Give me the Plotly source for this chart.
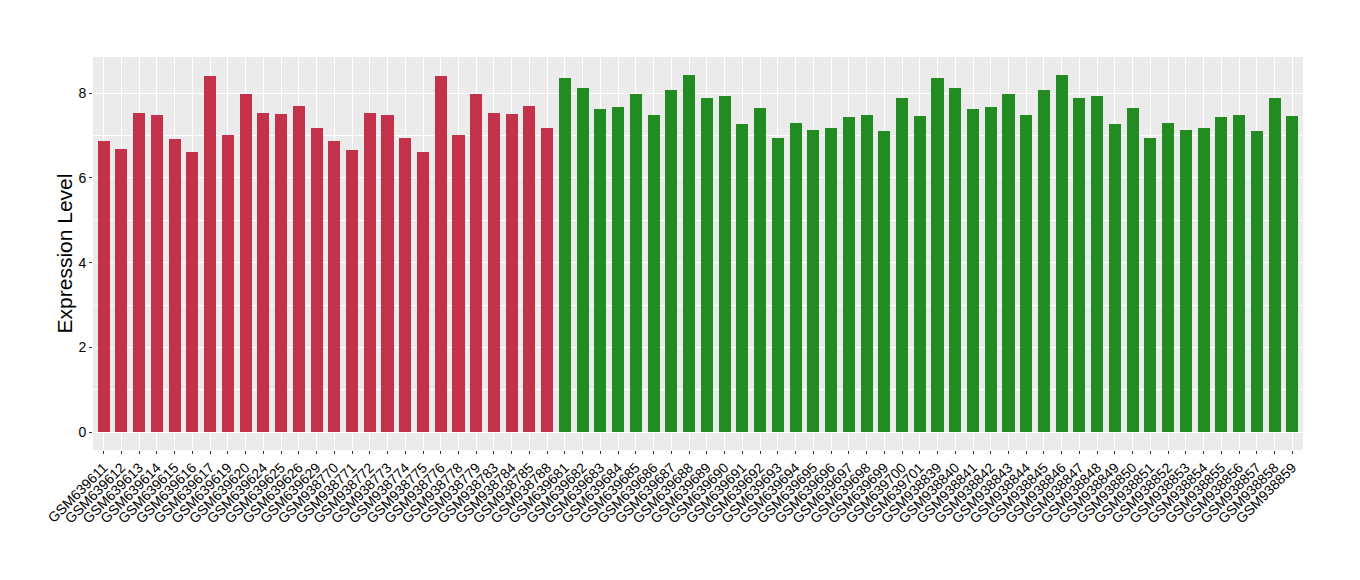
import plotly.graph_objects as go

red_samples = ["GSM639611", "GSM639612", "GSM639613", "GSM639614", "GSM639615", "GSM639616",
               "GSM639617", "GSM639619", "GSM639620", "GSM639624", "GSM639625", "GSM639626",
               "GSM639629", "GSM938770", "GSM938771", "GSM938772", "GSM938773", "GSM938774",
               "GSM938775", "GSM938776", "GSM938778", "GSM938779", "GSM938783", "GSM938784",
               "GSM938785", "GSM938788"]
red_values = [6.88, 6.67, 7.53, 7.49, 6.92, 6.60, 8.40, 7.00, 7.98, 7.53, 7.51, 7.70, 7.18,
              6.88, 6.66, 7.53, 7.49, 6.93, 6.60, 8.40, 7.00, 7.98, 7.53, 7.51, 7.70, 7.18]

green_samples = ["GSM639681", "GSM639682", "GSM639683", "GSM639684", "GSM639685", "GSM639686",
                 "GSM639687", "GSM639688", "GSM639689", "GSM639690", "GSM639691", "GSM639692",
                 "GSM639693", "GSM639694", "GSM639695", "GSM639696", "GSM639697", "GSM639698",
                 "GSM639699", "GSM639700", "GSM639701", "GSM938839", "GSM938840", "GSM938841",
                 "GSM938842", "GSM938843", "GSM938844", "GSM938845", "GSM938846", "GSM938847",
                 "GSM938848", "GSM938849", "GSM938850", "GSM938851", "GSM938852", "GSM938853",
                 "GSM938854", "GSM938855", "GSM938856", "GSM938857", "GSM938858", "GSM938859"]
green_values = [8.36, 8.12, 7.63, 7.68, 7.98, 7.49, 8.07, 8.43, 7.89, 7.93, 7.28, 7.65, 6.95,
                7.30, 7.14, 7.18, 7.44, 7.49, 7.11, 7.89, 7.46,
                8.36, 8.12, 7.63, 7.68, 7.98, 7.49, 8.07, 8.43, 7.89, 7.93, 7.28, 7.65, 6.95,
                7.30, 7.14, 7.18, 7.44, 7.49, 7.11, 7.89, 7.46]

RED = "#C3314A"
GREEN = "#228B22"

samples = red_samples + green_samples
values = red_values + green_values
colors = [RED] * len(red_samples) + [GREEN] * len(green_samples)

fig = go.Figure(go.Bar(x=samples, y=values, marker=dict(color=colors, line=dict(width=0)),
                       width=0.68, showlegend=False))

fig.update_layout(
    width=1360, height=580,
    margin=dict(l=85, r=65, t=49, b=138),
    paper_bgcolor="white", plot_bgcolor="#EBEBEB",
    font=dict(family="Liberation Sans, Arial, sans-serif", color="black", size=14),
    bargap=0,
)
fig.update_xaxes(
    type="category", range=[-0.6, len(samples) - 0.4], automargin=False,
    showgrid=True, gridcolor="white", gridwidth=1.1,
    ticks="outside", ticklen=3, tickcolor="#333333", tickwidth=1,
    tickangle=-45, tickfont=dict(size=14, color="black"),
    showline=False, zeroline=False,
)
fig.update_yaxes(
    range=[-0.42, 8.85], tickvals=[0, 2, 4, 6, 8], ticktext=["0", "2", "4", "6", "8"],
    automargin=False,
    showgrid=True, gridcolor="white", gridwidth=1.1,
    minor=dict(tickvals=[1, 3, 5, 7], showgrid=True, gridcolor="white", gridwidth=0.5, ticks=""),
    ticks="outside", ticklen=3, tickcolor="#333333", tickwidth=1,
    tickfont=dict(size=14, color="black"),
    zeroline=False, showline=False,
    title=dict(text="Expression Level", font=dict(size=21, color="black"), standoff=0),
)

fig.write_html("out.html")
